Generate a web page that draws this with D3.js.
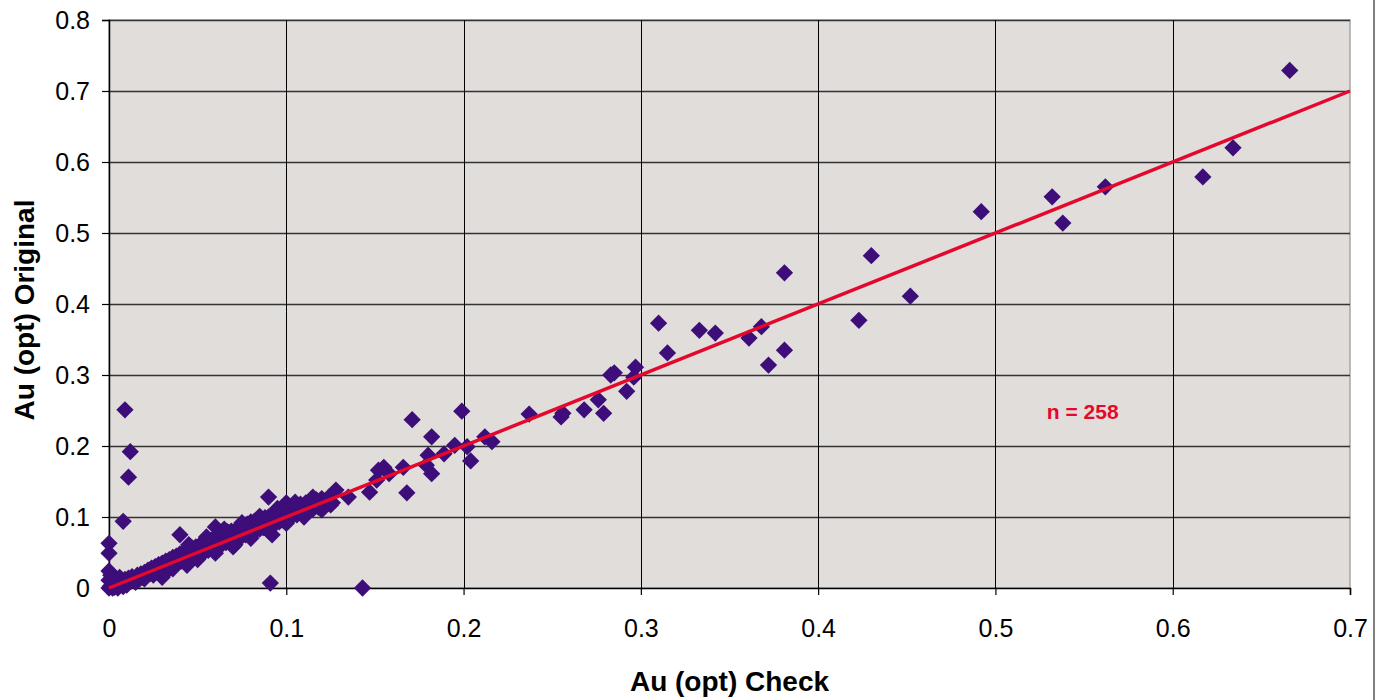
<!DOCTYPE html>
<html>
<head>
<meta charset="utf-8">
<script src="https://cdn.jsdelivr.net/npm/d3@7"></script>
<style>
  html, body { margin: 0; padding: 0; background: #fff; }
  svg text { font-family: "Liberation Sans", Arial, sans-serif; }
</style>
</head>
<body>
<div id="chart"></div>
<script>
// tick values
var xTicks = [0, 0.1, 0.2, 0.3, 0.4, 0.5, 0.6, 0.7];
var yTicks = [0, 0.1, 0.2, 0.3, 0.4, 0.5, 0.6, 0.7, 0.8];

// x = Au (opt) Check, y = Au (opt) Original
var checkVals = [
  // outliers / sparse points
  0.666, 0.634, 0.617, 0.562, 0.538, 0.532, 0.492, 0.452, 0.430, 0.423,
  0.381, 0.381, 0.372, 0.368, 0.361, 0.342, 0.333, 0.315, 0.310, 0.297,
  0.296, 0.292, 0.285, 0.283, 0.279, 0.276, 0.268, 0.255, 0.256, 0.237,
  0.216, 0.212, 0.204, 0.202, 0.199, 0.195, 0.189, 0.182, 0.182, 0.179,
  0.180, 0.171, 0.168, 0.166, 0.158, 0.155, 0.152, 0.151, 0.147, 0.143,
  0.135, 0.128, 0.125, 0.091, 0.090, 0.009, 0.012, 0.011, 0.008, 0.000,
  0.000, 0.000, 0.000, 0.000,
  // dense cluster
  0.001, 0.002, 0.003, 0.004, 0.005, 0.006, 0.007, 0.008, 0.009, 0.010,
  0.011, 0.012, 0.013, 0.014, 0.015, 0.016, 0.017, 0.018, 0.019, 0.020,
  0.002, 0.004, 0.006, 0.001, 0.003, 0.005, 0.008,
  0.021, 0.022, 0.023, 0.024, 0.025, 0.026, 0.027, 0.028, 0.029, 0.030,
  0.030, 0.031, 0.032, 0.033, 0.034, 0.035, 0.036, 0.037, 0.038, 0.039,
  0.040, 0.040,
  0.041, 0.042, 0.043, 0.044, 0.045, 0.046, 0.047, 0.048, 0.049, 0.050,
  0.051, 0.052, 0.053, 0.054, 0.055, 0.056, 0.057, 0.058, 0.059, 0.060, 0.060,
  0.061, 0.062, 0.063, 0.064, 0.065, 0.066, 0.067, 0.068, 0.069, 0.070,
  0.071, 0.072, 0.073, 0.074, 0.075, 0.076, 0.077, 0.078, 0.079, 0.080,
  0.081, 0.082, 0.083, 0.084, 0.085, 0.086, 0.087, 0.088, 0.089, 0.090,
  0.091, 0.092, 0.093, 0.094, 0.095, 0.096, 0.097, 0.098, 0.099, 0.100, 0.100,
  0.102, 0.103, 0.105, 0.106, 0.108, 0.109, 0.111, 0.112, 0.114, 0.115,
  0.117, 0.118, 0.120, 0.122, 0.124, 0.126,
  0.045, 0.055, 0.065, 0.075, 0.085, 0.095, 0.105, 0.115,
  0.050, 0.060, 0.070, 0.080, 0.090, 0.100, 0.110, 0.120,
  0.010, 0.015, 0.020, 0.025, 0.032, 0.036
];
var originalVals = [
  0.729, 0.620, 0.579, 0.565, 0.514, 0.551, 0.530, 0.411, 0.468, 0.377,
  0.444, 0.335, 0.314, 0.368, 0.352, 0.359, 0.363, 0.331, 0.373, 0.311,
  0.297, 0.277, 0.303, 0.300, 0.246, 0.265, 0.251, 0.241, 0.246, 0.245,
  0.206, 0.213, 0.179, 0.199, 0.249, 0.201, 0.189, 0.213, 0.161, 0.173,
  0.187, 0.237, 0.134, 0.170, 0.161, 0.170, 0.166, 0.152, 0.135, 0.000,
  0.128, 0.138, 0.117, 0.007, 0.128, 0.251, 0.192, 0.156, 0.094, 0.063,
  0.049, 0.024, 0.011, 0.000,
  0.003, 0.000, 0.006, 0.002, 0.008, 0.004, 0.010, 0.005, 0.012, 0.007,
  0.014, 0.009, 0.016, 0.011, 0.013, 0.018, 0.012, 0.020, 0.015, 0.022,
  0.010, 0.012, 0.015, 0.018, 0.001, 0.000, 0.002,
  0.017, 0.025, 0.020, 0.028, 0.021, 0.030, 0.024, 0.033, 0.026, 0.015,
  0.035, 0.028, 0.038, 0.030, 0.040, 0.031, 0.043, 0.034, 0.045, 0.036,
  0.075, 0.048,
  0.038, 0.050, 0.040, 0.032, 0.052, 0.043, 0.056, 0.045, 0.058, 0.047,
  0.060, 0.049, 0.062, 0.051, 0.064, 0.053, 0.067, 0.055, 0.070, 0.086, 0.057,
  0.072, 0.060, 0.074, 0.062, 0.076, 0.064, 0.079, 0.066, 0.080, 0.068,
  0.061, 0.083, 0.071, 0.085, 0.073, 0.088, 0.075, 0.090, 0.077, 0.093,
  0.079, 0.094, 0.081, 0.096, 0.083, 0.097, 0.085, 0.099, 0.087, 0.100,
  0.089, 0.075, 0.104, 0.091, 0.106, 0.093, 0.108, 0.096, 0.110, 0.120, 0.098,
  0.112, 0.100, 0.115, 0.103, 0.118, 0.106, 0.120, 0.109, 0.122, 0.111,
  0.124, 0.114, 0.126, 0.117, 0.128, 0.120,
  0.061, 0.072, 0.083, 0.092, 0.101, 0.112, 0.121, 0.128,
  0.040, 0.049, 0.058, 0.070, 0.080, 0.091, 0.100, 0.110,
  0.004, 0.008, 0.013, 0.018, 0.022, 0.027
];
// 1:1 reference line
var lineEnds = [0, 0.7];
var sampleCount = 258;

var W = 1387, H = 700;
var margin = {top: 20, right: 37, bottom: 112, left: 109};
var width = W - margin.left - margin.right;
var height = H - margin.top - margin.bottom;

var svg = d3.select("#chart").append("svg")
  .attr("width", W)
  .attr("height", H);

// outer frame edge on the right
svg.append("line")
  .attr("x1", 1374).attr("x2", 1374)
  .attr("y1", 0).attr("y2", H)
  .attr("stroke", "#000").attr("stroke-width", 1);

var g = svg.append("g")
  .attr("transform", "translate(" + margin.left + "," + margin.top + ")");

var x = d3.scaleLinear().domain([0, 0.7]).range([0, width]);
var y = d3.scaleLinear().domain([0, 0.8]).range([height, 0]);

// plot background
g.append("rect")
  .attr("width", width)
  .attr("height", height)
  .attr("fill", "#e0dddb")
  .attr("stroke", "#a6a6a6")
  .attr("stroke-width", 1.5);

// horizontal grid
g.selectAll(".hgrid")
  .data(yTicks.slice(1))
  .enter().append("line")
  .attr("class", "hgrid")
  .attr("x1", 0).attr("x2", width)
  .attr("y1", function(d){ return Math.round(y(d)) + 0.5; })
  .attr("y2", function(d){ return Math.round(y(d)) + 0.5; })
  .attr("stroke", "#333").attr("stroke-width", 1.4);

// vertical grid
g.selectAll(".vgrid")
  .data(xTicks.slice(1, -1))
  .enter().append("line")
  .attr("class", "vgrid")
  .attr("x1", function(d){ return Math.round(x(d)) + 0.5; })
  .attr("x2", function(d){ return Math.round(x(d)) + 0.5; })
  .attr("y1", 0).attr("y2", height)
  .attr("stroke", "#000").attr("stroke-width", 1);

// axes
var fmt = function(d){ return d === 0 ? "0" : d3.format(".1f")(d); };
var xAxis = d3.axisBottom(x).tickValues(xTicks).tickSize(7).tickPadding(24).tickFormat(fmt);
var yAxis = d3.axisLeft(y).tickValues(yTicks).tickSize(7).tickPadding(12).tickFormat(fmt);

var gx = g.append("g")
  .attr("transform", "translate(0," + height + ")")
  .call(xAxis);
var gy = g.append("g").call(yAxis);

[gx, gy].forEach(function(ax){
  ax.select(".domain").attr("stroke", "#000").attr("stroke-width", 1.5);
  ax.selectAll(".tick line").attr("stroke", "#000").attr("stroke-width", 1.2);
  ax.selectAll(".tick text")
    .attr("fill", "#000")
    .style("font-size", "25px")
    .style("font-family", "'Liberation Sans', Arial, sans-serif");
});
gy.selectAll(".tick text").attr("dy", "0.35em");

// points
var points = checkVals.map(function(c, i){ return {c: c, o: originalVals[i]}; });
var diamond = d3.symbol().type(d3.symbolDiamond2).size(190);

g.selectAll(".pt")
  .data(points)
  .enter().append("path")
  .attr("class", "pt")
  .attr("d", diamond)
  .attr("transform", function(d){
    return "translate(" + x(d.c) + "," + y(d.o) + ")";
  })
  .attr("fill", "#3d0d7a");

// 1:1 line
g.append("line")
  .attr("x1", x(lineEnds[0])).attr("y1", y(lineEnds[0]))
  .attr("x2", x(lineEnds[1])).attr("y2", y(lineEnds[1]))
  .attr("stroke", "#e3082c")
  .attr("stroke-width", 3.5);

// n label
g.append("text")
  .attr("x", x(0.529))
  .attr("y", y(0.238))
  .attr("fill", "#e3082c")
  .style("font-size", "21px")
  .style("font-weight", "bold")
  .text("n = " + sampleCount);

// axis titles
svg.append("text")
  .attr("x", margin.left + width / 2)
  .attr("y", 691)
  .attr("text-anchor", "middle")
  .style("font-size", "28px")
  .style("font-weight", "bold")
  .text("Au (opt) Check");

svg.append("text")
  .attr("transform", "translate(34," + 310 + ") rotate(-90)")
  .attr("text-anchor", "middle")
  .style("font-size", "28px")
  .style("font-weight", "bold")
  .text("Au (opt) Original");
</script>
</body>
</html>
